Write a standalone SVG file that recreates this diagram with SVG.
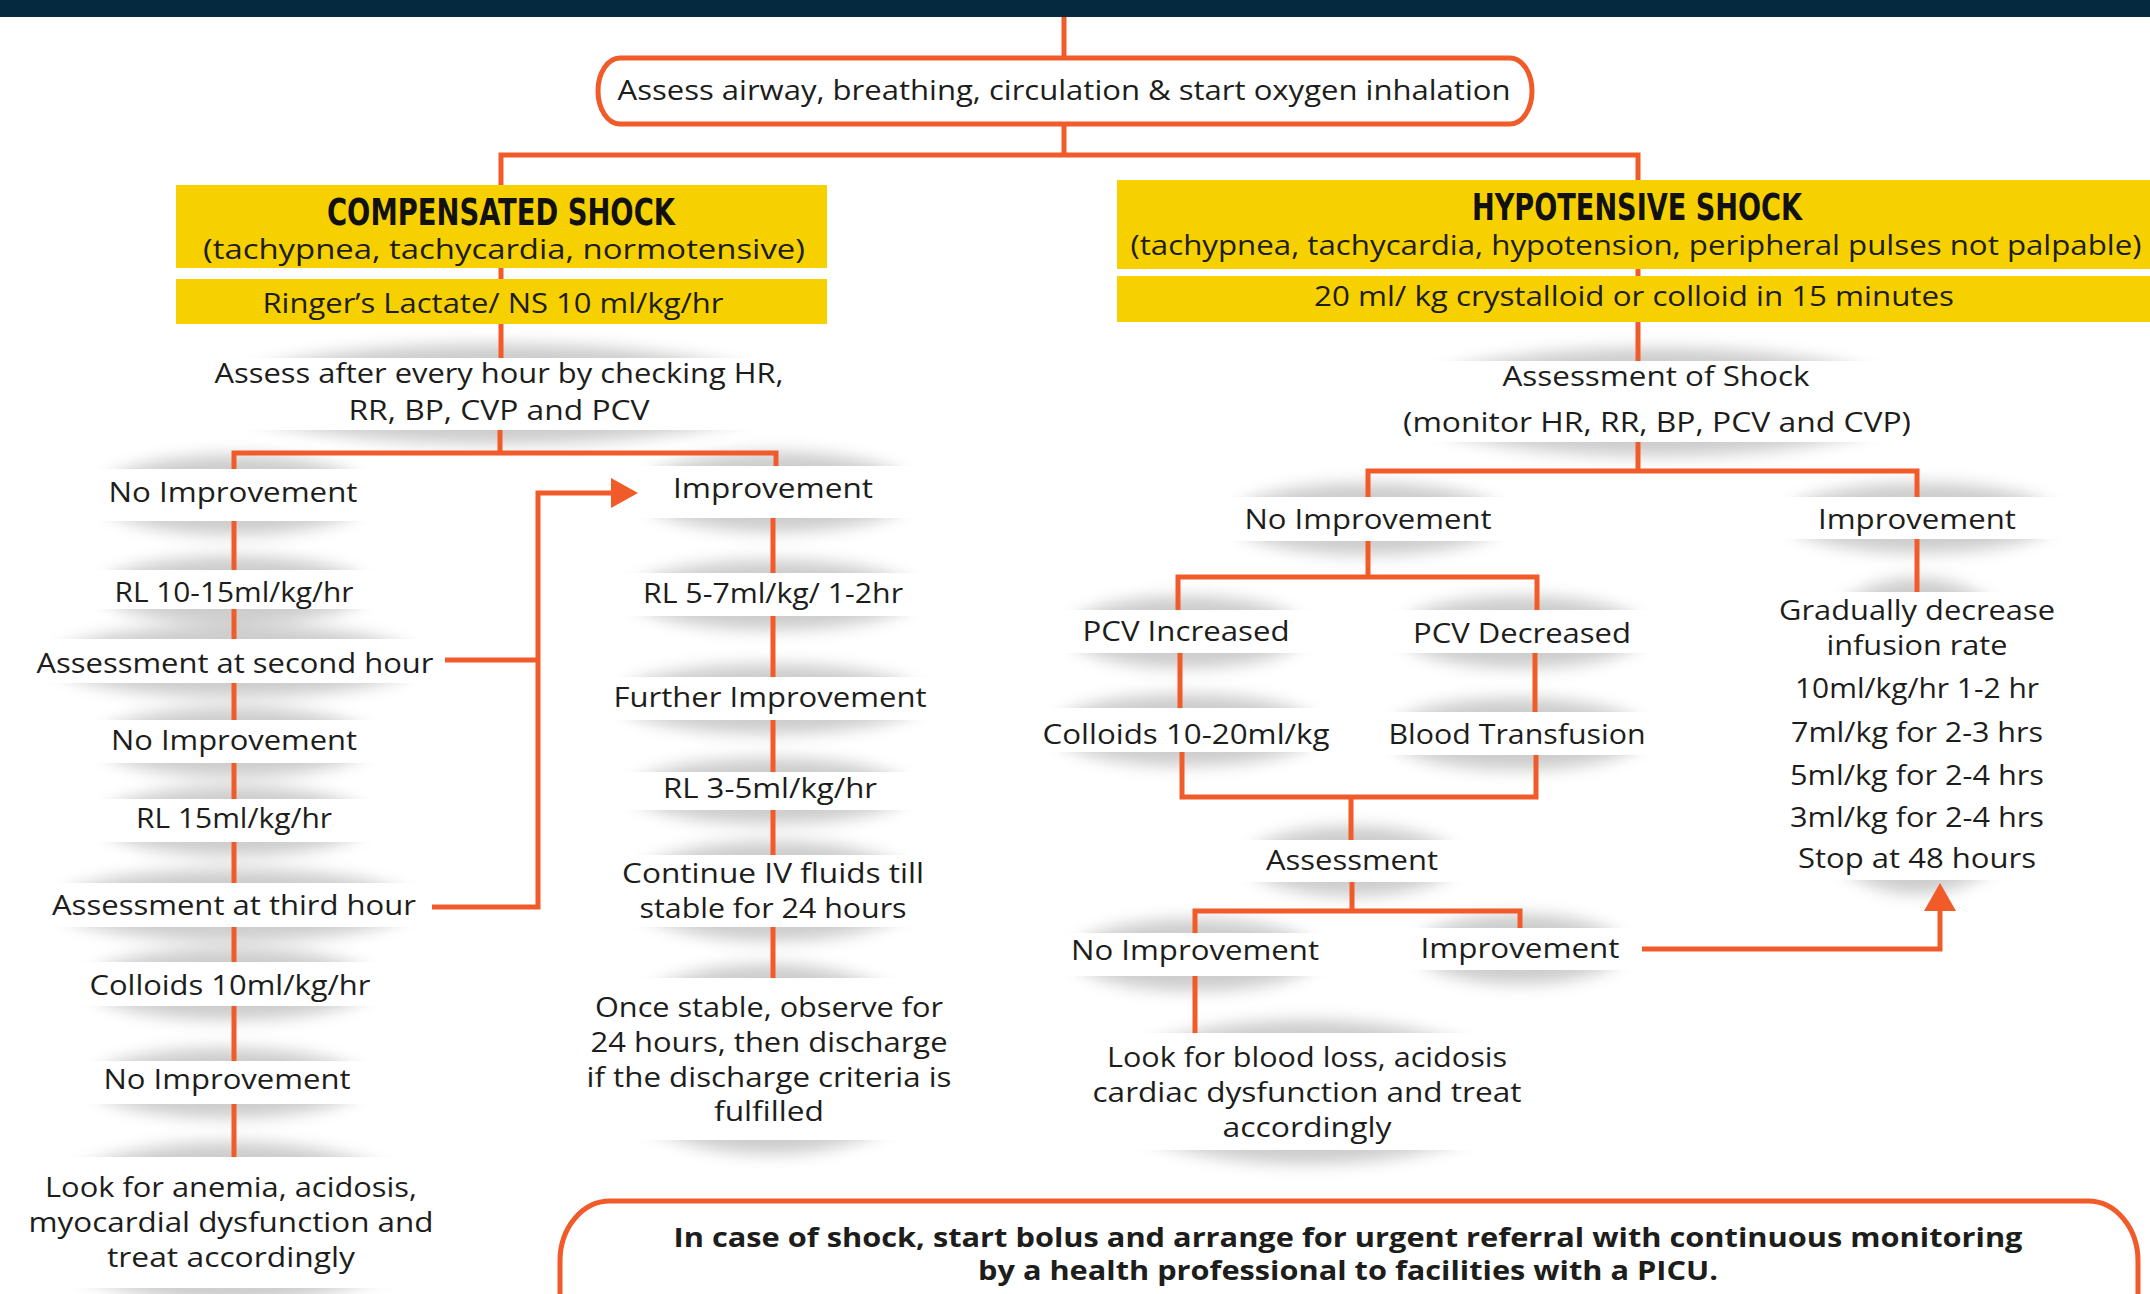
<svg xmlns="http://www.w3.org/2000/svg" width="2150" height="1294" viewBox="0 0 2150 1294">
<defs>
<filter id="blur" x="-30%" y="-80%" width="160%" height="260%"><feGaussianBlur stdDeviation="8"/></filter>
</defs>
<style>
.t{font-family:"Open Sans","DejaVu Sans",sans-serif;font-size:27px;font-weight:500;fill:#1d1d1b;text-anchor:middle}
.b{font-family:"Open Sans","DejaVu Sans",sans-serif;font-size:27px;font-weight:700;fill:#1d1d1b;text-anchor:middle}
.h{font-family:"DejaVu Sans Condensed","DejaVu Sans",sans-serif;font-stretch:condensed;font-size:37px;font-weight:700;fill:#111;text-anchor:middle}
.y{fill:#f7d000}
.wb{fill:#fff}
.sh{fill:#000;fill-opacity:0.2;filter:url(#blur)}
.c{fill:none;stroke:#f15a29;stroke-width:5;stroke-linejoin:miter}
.ar{fill:#f15a29}
.pill{fill:#fff;stroke:#f15a29;stroke-width:5}
</style>
<rect x="0" y="0" width="2150" height="1294" fill="#fff"/>
<rect x="0" y="0" width="2150" height="17" fill="#052a40"/>

<g id="shadows">
<ellipse class="sh" cx="499" cy="394" rx="280" ry="50"/>
<ellipse class="sh" cx="233" cy="495" rx="138" ry="40"/>
<ellipse class="sh" cx="234" cy="590" rx="135" ry="34"/>
<ellipse class="sh" cx="235" cy="661" rx="185" ry="36"/>
<ellipse class="sh" cx="234" cy="742" rx="138" ry="35"/>
<ellipse class="sh" cx="234" cy="821" rx="135" ry="35"/>
<ellipse class="sh" cx="234" cy="905" rx="180" ry="36"/>
<ellipse class="sh" cx="230" cy="984" rx="145" ry="36"/>
<ellipse class="sh" cx="227" cy="1083" rx="138" ry="35"/>
<ellipse class="sh" cx="231" cy="1222" rx="205" ry="80"/>
<ellipse class="sh" cx="776" cy="492" rx="140" ry="40"/>
<ellipse class="sh" cx="773" cy="595" rx="145" ry="35"/>
<ellipse class="sh" cx="770" cy="699" rx="155" ry="35"/>
<ellipse class="sh" cx="770" cy="791" rx="140" ry="33"/>
<ellipse class="sh" cx="773" cy="891" rx="150" ry="50"/>
<ellipse class="sh" cx="769" cy="1059" rx="175" ry="95"/>
<ellipse class="sh" cx="1656" cy="402" rx="255" ry="54"/>
<ellipse class="sh" cx="1368" cy="519" rx="138" ry="36"/>
<ellipse class="sh" cx="1921" cy="518" rx="137" ry="35"/>
<ellipse class="sh" cx="1186" cy="632" rx="120" ry="36"/>
<ellipse class="sh" cx="1522" cy="632" rx="125" ry="36"/>
<ellipse class="sh" cx="1186" cy="730" rx="135" ry="36"/>
<ellipse class="sh" cx="1517" cy="734" rx="130" ry="36"/>
<ellipse class="sh" cx="1352" cy="861" rx="105" ry="35"/>
<ellipse class="sh" cx="1917" cy="736" rx="140" ry="158"/>
<ellipse class="sh" cx="1195" cy="955" rx="125" ry="36"/>
<ellipse class="sh" cx="1520" cy="949" rx="105" ry="35"/>
<ellipse class="sh" cx="1307" cy="1092" rx="210" ry="72"/>
</g>

<g id="start">
<rect class="pill" x="598" y="58" width="934" height="66" rx="22" ry="33"/>
<text class="t" x="1064" y="100" textLength="893" lengthAdjust="spacingAndGlyphs">Assess airway, breathing, circulation &amp; start oxygen inhalation</text>
</g>

<g id="compensated">
<rect class="y" x="176" y="185" width="651" height="83"/>
<text class="h" x="501" y="225" textLength="348" lengthAdjust="spacingAndGlyphs">COMPENSATED SHOCK</text>
<text class="t" x="504" y="259" textLength="602" lengthAdjust="spacingAndGlyphs">(tachypnea, tachycardia, normotensive)</text>
</g>
<g id="comp_fluid">
<rect class="y" x="176" y="279" width="651" height="45"/>
<text class="t" x="493" y="313" textLength="461" lengthAdjust="spacingAndGlyphs">Ringer’s Lactate/ NS 10 ml/kg/hr</text>
</g>
<g id="comp_assess">
<rect class="wb" x="189" y="358" width="620" height="72"/>
<text class="t" x="499" y="383" textLength="569" lengthAdjust="spacingAndGlyphs">Assess after every hour by checking HR,</text>
<text class="t" x="499" y="420" textLength="301" lengthAdjust="spacingAndGlyphs">RR, BP, CVP and PCV</text>
</g>
<g id="c_noimp1">
<rect class="wb" x="70" y="469" width="326" height="52"/>
<text class="t" x="233" y="502" textLength="249" lengthAdjust="spacingAndGlyphs">No Improvement</text>
</g>
<g id="c_rl1">
<rect class="wb" x="74" y="570" width="320" height="39"/>
<text class="t" x="234" y="602" textLength="239" lengthAdjust="spacingAndGlyphs">RL 10-15ml/kg/hr</text>
</g>
<g id="c_assess2">
<rect class="wb" x="25" y="639" width="420" height="44"/>
<text class="t" x="235" y="673" textLength="397" lengthAdjust="spacingAndGlyphs">Assessment at second hour</text>
</g>
<g id="c_noimp2">
<rect class="wb" x="71" y="720" width="326" height="43"/>
<text class="t" x="234" y="750" textLength="246" lengthAdjust="spacingAndGlyphs">No Improvement</text>
</g>
<g id="c_rl2">
<rect class="wb" x="74" y="799" width="320" height="43"/>
<text class="t" x="234" y="828" textLength="196" lengthAdjust="spacingAndGlyphs">RL 15ml/kg/hr</text>
</g>
<g id="c_assess3">
<rect class="wb" x="29" y="883" width="400" height="44"/>
<text class="t" x="234" y="915" textLength="364" lengthAdjust="spacingAndGlyphs">Assessment at third hour</text>
</g>
<g id="c_colloid">
<rect class="wb" x="60" y="962" width="340" height="44"/>
<text class="t" x="230" y="995" textLength="281" lengthAdjust="spacingAndGlyphs">Colloids 10ml/kg/hr</text>
</g>
<g id="c_noimp3">
<rect class="wb" x="64" y="1061" width="326" height="43"/>
<text class="t" x="227" y="1089" textLength="247" lengthAdjust="spacingAndGlyphs">No Improvement</text>
</g>
<g id="c_look">
<rect class="wb" x="1" y="1157" width="460" height="131"/>
<text class="t" x="231" y="1197" textLength="372" lengthAdjust="spacingAndGlyphs">Look for anemia, acidosis,</text>
<text class="t" x="231" y="1232" textLength="405" lengthAdjust="spacingAndGlyphs">myocardial dysfunction and</text>
<text class="t" x="231" y="1267" textLength="248" lengthAdjust="spacingAndGlyphs">treat accordingly</text>
</g>
<g id="c_imp">
<rect class="wb" x="611" y="466" width="330" height="52"/>
<text class="t" x="773" y="498" textLength="200" lengthAdjust="spacingAndGlyphs">Improvement</text>
</g>
<g id="c_rl57">
<rect class="wb" x="603" y="573" width="340" height="43"/>
<text class="t" x="773" y="603" textLength="260" lengthAdjust="spacingAndGlyphs">RL 5-7ml/kg/ 1-2hr</text>
</g>
<g id="c_further">
<rect class="wb" x="590" y="677" width="360" height="43"/>
<text class="t" x="770" y="707" textLength="313" lengthAdjust="spacingAndGlyphs">Further Improvement</text>
</g>
<g id="c_rl35">
<rect class="wb" x="605" y="772" width="330" height="38"/>
<text class="t" x="770" y="798" textLength="214" lengthAdjust="spacingAndGlyphs">RL 3-5ml/kg/hr</text>
</g>
<g id="c_continue">
<rect class="wb" x="598" y="855" width="350" height="72"/>
<text class="t" x="773" y="883" textLength="302" lengthAdjust="spacingAndGlyphs">Continue IV fluids till</text>
<text class="t" x="773" y="918" textLength="267" lengthAdjust="spacingAndGlyphs">stable for 24 hours</text>
</g>
<g id="c_once">
<rect class="wb" x="569" y="978" width="400" height="162"/>
<text class="t" x="769" y="1017" textLength="348" lengthAdjust="spacingAndGlyphs">Once stable, observe for</text>
<text class="t" x="769" y="1052" textLength="357" lengthAdjust="spacingAndGlyphs">24 hours, then discharge</text>
<text class="t" x="769" y="1087" textLength="365" lengthAdjust="spacingAndGlyphs">if the discharge criteria is</text>
<text class="t" x="769" y="1121" textLength="110" lengthAdjust="spacingAndGlyphs">fulfilled</text>
</g>

<g id="hypotensive">
<rect class="y" x="1117" y="180" width="1033" height="89"/>
<text class="h" x="1637" y="220" textLength="330" lengthAdjust="spacingAndGlyphs">HYPOTENSIVE SHOCK</text>
<text class="t" x="1636" y="255" textLength="1011" lengthAdjust="spacingAndGlyphs">(tachypnea, tachycardia, hypotension, peripheral pulses not palpable)</text>
</g>
<g id="hypo_fluid">
<rect class="y" x="1117" y="276" width="1033" height="46"/>
<text class="t" x="1634" y="306" textLength="640" lengthAdjust="spacingAndGlyphs">20 ml/ kg crystalloid or colloid in 15 minutes</text>
</g>
<g id="h_assess">
<rect class="wb" x="1376" y="361" width="560" height="81"/>
<text class="t" x="1656" y="386" textLength="307" lengthAdjust="spacingAndGlyphs">Assessment of Shock</text>
<text class="t" x="1657" y="432" textLength="508" lengthAdjust="spacingAndGlyphs">(monitor HR, RR, BP, PCV and CVP)</text>
</g>
<g id="h_noimp">
<rect class="wb" x="1205" y="497" width="326" height="44"/>
<text class="t" x="1368" y="529" textLength="247" lengthAdjust="spacingAndGlyphs">No Improvement</text>
</g>
<g id="h_imp">
<rect class="wb" x="1759" y="497" width="324" height="42"/>
<text class="t" x="1917" y="529" textLength="198" lengthAdjust="spacingAndGlyphs">Improvement</text>
</g>
<g id="h_pcvinc">
<rect class="wb" x="1041" y="610" width="290" height="43"/>
<text class="t" x="1186" y="641" textLength="207" lengthAdjust="spacingAndGlyphs">PCV Increased</text>
</g>
<g id="h_pcvdec">
<rect class="wb" x="1372" y="610" width="300" height="43"/>
<text class="t" x="1522" y="643" textLength="218" lengthAdjust="spacingAndGlyphs">PCV Decreased</text>
</g>
<g id="h_colloid">
<rect class="wb" x="1026" y="708" width="320" height="44"/>
<text class="t" x="1186" y="744" textLength="287" lengthAdjust="spacingAndGlyphs">Colloids 10-20ml/kg</text>
</g>
<g id="h_blood">
<rect class="wb" x="1362" y="712" width="310" height="43"/>
<text class="t" x="1517" y="744" textLength="257" lengthAdjust="spacingAndGlyphs">Blood Transfusion</text>
</g>
<g id="h_assessment">
<rect class="wb" x="1222" y="840" width="260" height="42"/>
<text class="t" x="1352" y="870" textLength="172" lengthAdjust="spacingAndGlyphs">Assessment</text>
</g>
<g id="h_taper">
<rect class="wb" x="1752" y="592" width="330" height="288"/>
<text class="t" x="1917" y="620" textLength="276" lengthAdjust="spacingAndGlyphs">Gradually decrease</text>
<text class="t" x="1917" y="655" textLength="181" lengthAdjust="spacingAndGlyphs">infusion rate</text>
<text class="t" x="1917" y="698" textLength="244" lengthAdjust="spacingAndGlyphs">10ml/kg/hr 1-2 hr</text>
<text class="t" x="1917" y="742" textLength="252" lengthAdjust="spacingAndGlyphs">7ml/kg for 2-3 hrs</text>
<text class="t" x="1917" y="785" textLength="254" lengthAdjust="spacingAndGlyphs">5ml/kg for 2-4 hrs</text>
<text class="t" x="1917" y="827" textLength="254" lengthAdjust="spacingAndGlyphs">3ml/kg for 2-4 hrs</text>
<text class="t" x="1917" y="868" textLength="238" lengthAdjust="spacingAndGlyphs">Stop at 48 hours</text>
</g>
<g id="h_noimp2">
<rect class="wb" x="1045" y="933" width="300" height="43"/>
<text class="t" x="1195" y="960" textLength="248" lengthAdjust="spacingAndGlyphs">No Improvement</text>
</g>
<g id="h_imp2">
<rect class="wb" x="1390" y="928" width="252" height="42"/>
<text class="t" x="1520" y="958" textLength="199" lengthAdjust="spacingAndGlyphs">Improvement</text>
</g>
<g id="h_look">
<rect class="wb" x="1072" y="1033" width="470" height="117"/>
<text class="t" x="1307" y="1067" textLength="400" lengthAdjust="spacingAndGlyphs">Look for blood loss, acidosis</text>
<text class="t" x="1307" y="1102" textLength="429" lengthAdjust="spacingAndGlyphs">cardiac dysfunction and treat</text>
<text class="t" x="1307" y="1137" textLength="169" lengthAdjust="spacingAndGlyphs">accordingly</text>
</g>

<g id="referral">
<rect class="pill" x="560" y="1201" width="1578" height="160" rx="50" ry="60"/>
<text class="b" x="1348" y="1247" textLength="1349" lengthAdjust="spacingAndGlyphs">In case of shock, start bolus and arrange for urgent referral with continuous monitoring</text>
<text class="b" x="1348" y="1280" textLength="740" lengthAdjust="spacingAndGlyphs">by a health professional to facilities with a PICU.</text>
</g>

<g id="connectors">
<path class="c" d="M1064 17V58M1064 124V155M501 185V155H1638V180"/>
<path class="c" d="M501 268V279M501 324V358M500 430V453M234 469V453H776V466"/>
<path class="c" d="M234 521V570M234 609V639M234 683V720M234 763V799M234 842V883M234 927V962M234 1006V1061M234 1104V1157"/>
<path class="c" d="M445 660H538M432 907H538V493H612"/>
<polygon class="ar" points="611,478 638,493 611,508"/>
<path class="c" d="M773 518V573M773 616V677M773 720V772M773 810V855M773 927V978"/>
<path class="c" d="M1638 269V276M1638 322V361M1638 442V471M1368 497V471H1917V497"/>
<path class="c" d="M1368 541V577M1178 610V577H1537V610M1180 653V708M1535 653V712M1182 752V797H1536V755M1351 797V840"/>
<path class="c" d="M1917 539V592M1352 882V911M1195 933V911H1520V928M1195 976V1033"/>
<path class="c" d="M1642 949H1940V909"/>
<polygon class="ar" points="1924,911 1940,883 1956,911"/>
</g>
</svg>
